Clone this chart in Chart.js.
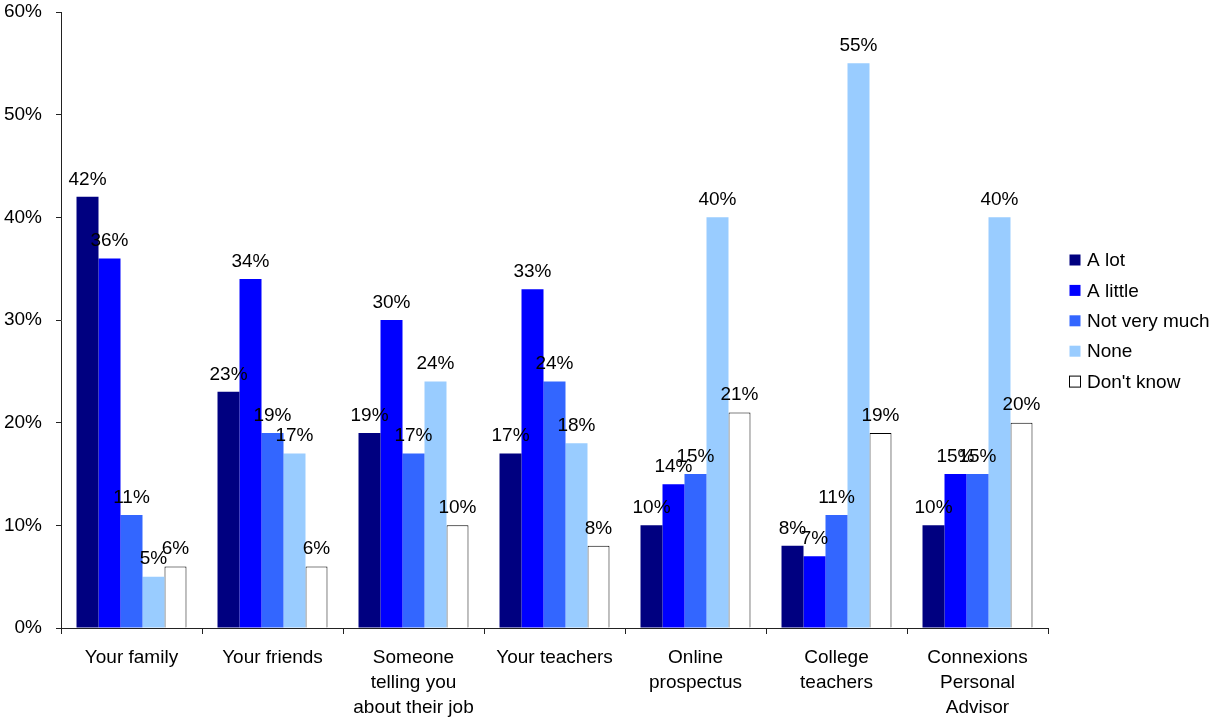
<!DOCTYPE html>
<html>
<head>
<meta charset="utf-8">
<script src="https://cdn.jsdelivr.net/npm/chart.js@4"></script>
<style>
  html, body { margin: 0; padding: 0; background: #fff; }
  #wrap { width: 1212px; height: 720px; }
</style>
</head>
<body>
<div id="wrap"><canvas id="infoChart"></canvas></div>
<script>
const categories = [
  'Your family',
  'Your friends',
  ['Someone', 'telling you', 'about their job'],
  'Your teachers',
  ['Online', 'prospectus'],
  ['College', 'teachers'],
  ['Connexions', 'Personal', 'Advisor']
];
const seriesNames = ['A lot', 'A little', 'Not very much', 'None', "Don't know"];
const aLot = [42, 23, 19, 17, 10, 8, 10];
const aLittle = [36, 34, 30, 33, 14, 7, 15];
const notVeryMuch = [11, 19, 17, 24, 15, 11, 15];
const none = [5, 17, 24, 18, 40, 55, 40];
const dontKnow = [6, 6, 10, 8, 21, 19, 20];
const yTicks = [0, 10, 20, 30, 40, 50, 60];

const fills = ['#000080', '#0000FF', '#3366FF', '#99CCFF', '#FFFFFF'];
const FONT = 'Arial, "Liberation Sans", sans-serif';
const FSIZE = 19;

// value labels above each bar
const barLabels = {
  id: 'barLabels',
  afterDatasetsDraw(chart) {
    const ctx = chart.ctx;
    ctx.save();
    ctx.font = FSIZE + 'px ' + FONT;
    ctx.fillStyle = '#000';
    ctx.textAlign = 'center';
    ctx.textBaseline = 'bottom';
    chart.data.datasets.forEach((ds, i) => {
      chart.getDatasetMeta(i).data.forEach((bar, j) => {
        ctx.fillText(ds.data[j] + '%', bar.x, bar.y - 8);
      });
    });
    ctx.restore();
  }
};

// legend on the right side
const sideLegend = {
  id: 'sideLegend',
  afterDraw(chart) {
    const ctx = chart.ctx;
    ctx.save();
    ctx.font = FSIZE + 'px ' + FONT;
    ctx.textBaseline = 'middle';
    chart.data.datasets.forEach((ds, i) => {
      const y = 260 + i * 30.4;
      ctx.fillStyle = ds.backgroundColor;
      ctx.fillRect(1069.5, y - 5.5, 11, 11);
      if (ds.borderWidth) {
        ctx.strokeStyle = '#000';
        ctx.lineWidth = 1;
        ctx.strokeRect(1069.5, y - 5.5, 11, 11);
      }
      ctx.fillStyle = '#000';
      ctx.fillText(ds.label, 1087, y + 1);
    });
    ctx.restore();
  }
};

const seriesValues = [aLot, aLittle, notVeryMuch, none, dontKnow];

new Chart(document.getElementById('infoChart'), {
  type: 'bar',
  data: {
    labels: categories,
    datasets: seriesValues.map((vals, i) => ({
      label: seriesNames[i],
      data: vals,
      backgroundColor: fills[i],
      borderColor: '#000',
      borderWidth: i === 4 ? 1 : 0,
      categoryPercentage: 0.78,
      barPercentage: 1.0
    }))
  },
  options: {
    responsive: true,
    maintainAspectRatio: false,
    animation: false,
    layout: { padding: { left: 3, right: 164, top: 0, bottom: 0 } },
    plugins: {
      legend: { display: false },
      tooltip: { enabled: false }
    },
    scales: {
      x: {
        afterFit(axis) {
          axis.height = 92;
        },
        grid: {
          display: true,
          drawOnChartArea: false,
          drawTicks: true,
          tickLength: 6,
          color: '#222',
          offset: true
        },
        border: { display: true, color: '#222', width: 1 },
        ticks: {
          color: '#000',
          font: { family: FONT, size: FSIZE, lineHeight: 1.32 },
          padding: 11,
          maxRotation: 0,
          autoSkip: false
        }
      },
      y: {
        min: 0,
        max: 60,
        afterBuildTicks(axis) {
          axis.ticks = yTicks.map(v => ({ value: v }));
        },
        afterFit(axis) {
          axis.width = 58;
          axis.paddingTop = 12;
        },
        grid: {
          display: true,
          drawOnChartArea: false,
          drawTicks: true,
          tickLength: 5,
          color: '#222'
        },
        border: { display: true, color: '#222', width: 1 },
        ticks: {
          color: '#000',
          font: { family: FONT, size: FSIZE },
          padding: 14,
          callback: v => v + '%'
        }
      }
    }
  },
  plugins: [barLabels, sideLegend]
});
</script>
</body>
</html>
